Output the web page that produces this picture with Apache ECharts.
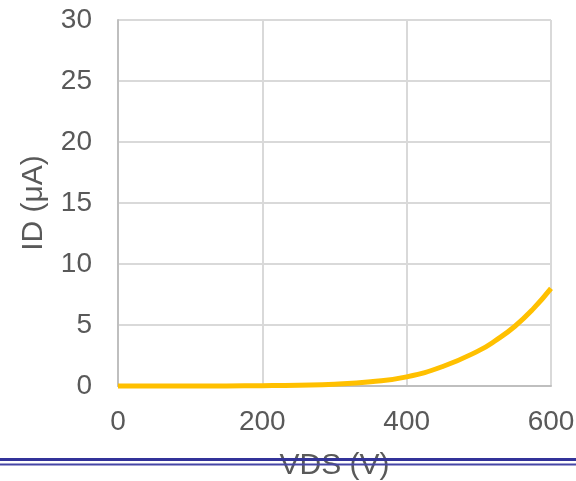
<!DOCTYPE html>
<html>
<head>
<meta charset="utf-8">
<script src="https://cdn.jsdelivr.net/npm/echarts@6/dist/echarts.min.js"></script>
<style>
html,body{margin:0;padding:0;background:#fff;}
#chart{width:576px;height:481px;}
</style>
</head>
<body>
<div id="chart"></div>
<script>
const vds = [0, 50, 100, 150, 200, 250, 300, 350, 400, 450, 500, 525, 550, 575, 600];
const idMicroA = [0, 0, 0, 0.01, 0.03, 0.07, 0.15, 0.35, 0.75, 1.6, 2.9, 3.8, 4.9, 6.3, 8.0];
const xTicks = [0, 200, 400, 600];
const yTicks = [0, 5, 10, 15, 20, 25, 30];
const xName = 'VDS (V)';
const yName = 'ID (μA)';

const chart = echarts.init(document.getElementById('chart'), null, {renderer: 'canvas'});
const font = '"Liberation Sans", Arial, sans-serif';
chart.setOption({
  animation: false,
  backgroundColor: '#ffffff',
  grid: {left: 118, right: 25, top: 20, bottom: 95, containLabel: false, outerBoundsMode: 'none'},
  xAxis: {
    type: 'value',
    min: xTicks[0], max: xTicks[xTicks.length - 1], interval: 200,
    name: xName, nameLocation: 'middle', nameGap: 65,
    nameTextStyle: {color: '#595959', fontSize: 30, fontFamily: font},
    axisLine: {show: true, lineStyle: {color: '#bfbfbf', width: 2}},
    axisTick: {show: false},
    axisLabel: {color: '#595959', fontSize: 28, fontFamily: font, margin: 22},
    splitLine: {show: true, lineStyle: {color: '#d9d9d9', width: 2}}
  },
  yAxis: {
    type: 'value',
    min: yTicks[0], max: yTicks[yTicks.length - 1], interval: 5,
    name: yName, nameLocation: 'middle', nameGap: 69, nameRotate: 90,
    nameTextStyle: {color: '#595959', fontSize: 30, fontFamily: font},
    axisLine: {show: true, lineStyle: {color: '#bfbfbf', width: 2}},
    axisTick: {show: false},
    axisLabel: {color: '#595959', fontSize: 28, fontFamily: font, margin: 26},
    splitLine: {show: true, lineStyle: {color: '#d9d9d9', width: 2}}
  },
  series: [{
    type: 'line',
    data: vds.map((x, i) => [x, idMicroA[i]]),
    smooth: true,
    showSymbol: false,
    clip: false,
    lineStyle: {color: '#FFC000', width: 5},
    z: 5
  }],
  graphic: [
    {type: 'rect', left: 0, top: 458, shape: {width: 576, height: 3}, style: {fill: '#333399'}, z: 100},
    {type: 'rect', left: 0, top: 463.5, shape: {width: 576, height: 2}, style: {fill: '#4646a6'}, z: 100}
  ]
});
</script>
</body>
</html>
